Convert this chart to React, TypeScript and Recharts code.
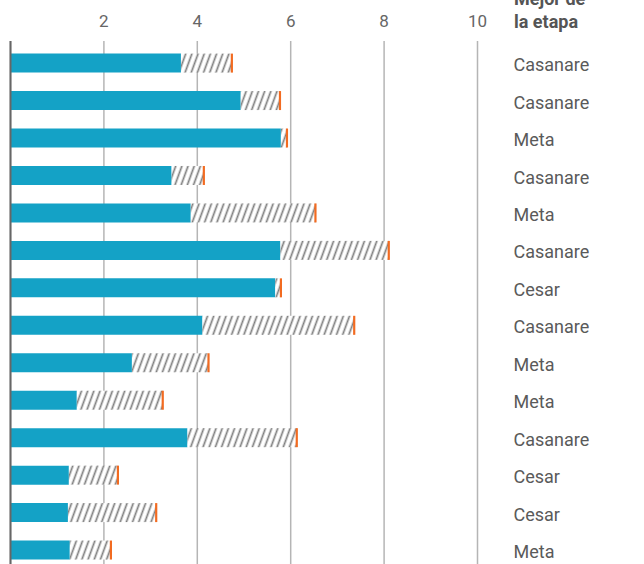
import { BarChart, Bar, XAxis, YAxis, CartesianGrid, ReferenceLine } from "recharts";

// departamento con mejor resultado de la etapa (columna derecha)
const mejor = ["Casanare", "Casanare", "Meta", "Casanare", "Meta", "Casanare", "Cesar", "Casanare", "Meta", "Meta", "Casanare", "Cesar", "Cesar", "Meta"];
// valor propio (barra azul)
const actual = [3.65, 4.93, 5.79, 3.45, 3.86, 5.78, 5.67, 4.11, 2.6, 1.42, 3.79, 1.25, 1.23, 1.27];
// valor del mejor de la etapa (fin del rayado)
const mejorValor = [4.74, 5.77, 5.92, 4.14, 6.53, 8.1, 5.79, 7.36, 4.24, 3.26, 6.13, 2.3, 3.12, 2.15];
const ticksX = [2, 4, 6, 8, 10];

const data = actual.map((v, i) => ({
  id: String(i),
  actual: v,
  brecha: +(mejorValor[i] - v).toFixed(2),
}));

const fuente = "Roboto, 'Noto Sans', sans-serif";

const Brecha = (props: any) => {
  const { x, y, width, height } = props;
  if (!width) return null;
  return (
    <g>
      <rect x={x} y={y} width={width} height={height} fill="url(#rayado)" />
      <line x1={x + width} x2={x + width} y1={y} y2={y + height} stroke="#f26b21" strokeWidth={2.2} />
    </g>
  );
};

const TickX = ({ x, y, payload }: any) => (
  <text x={x} y={y} textAnchor="middle" fill="#666" fontSize={17} fontFamily={fuente}>
    {payload.value}
  </text>
);

const TickMejor = ({ x, y, payload }: any) => (
  <text x={x} y={y + 7.8} fill="#5a5a5a" fontSize={18} fontFamily={fuente}>
    {mejor[payload.index]}
  </text>
);

export default function App() {
  return (
    <div style={{ position: "absolute", left: 0, top: 0, width: 644, height: 564, overflow: "hidden", background: "#fff" }}>
      <BarChart
        width={644}
        height={572}
        data={data}
        layout="vertical"
        margin={{ top: 0, right: 0, bottom: 3, left: 10.5 }}
      >
        <defs>
          <pattern id="rayado" patternUnits="userSpaceOnUse" width={5.8} height={6} patternTransform="rotate(20)">
            <rect width={5.8} height={6} fill="#fff" />
            <line x1={1.5} y1={0} x2={1.5} y2={6} stroke="#7f7f7f" strokeWidth={1.7} />
          </pattern>
        </defs>
        <CartesianGrid horizontal={false} stroke="#b5b5b5" strokeWidth={1.5} />
        <XAxis
          type="number"
          orientation="top"
          domain={[0, 10]}
          ticks={ticksX}
          height={41}
          axisLine={false}
          tickLine={false}
          tickSize={0}
          tickMargin={14}
          tick={<TickX />}
        />
        <YAxis
          type="category"
          dataKey="id"
          orientation="right"
          width={166.5}
          axisLine={false}
          tickLine={false}
          tickSize={0}
          tickMargin={36}
          interval={0}
          padding={{ top: 3.6, bottom: 0 }}
          tick={<TickMejor />}
        />
        <Bar dataKey="actual" stackId="a" fill="#14a2c6" barSize={19} isAnimationActive={false} />
        <Bar dataKey="brecha" stackId="a" barSize={19} shape={<Brecha />} isAnimationActive={false} />
        <ReferenceLine x={0} stroke="#666" strokeWidth={2} />
      </BarChart>
      <svg width={644} height={40} style={{ position: "absolute", left: 0, top: 0 }}>
        <text x={514} y={5} fill="#555" fontSize={18} fontWeight="bold" fontFamily={fuente}>
          Mejor de
        </text>
        <text x={514} y={28} fill="#555" fontSize={18} fontWeight="bold" fontFamily={fuente}>
          la etapa
        </text>
      </svg>
    </div>
  );
}
